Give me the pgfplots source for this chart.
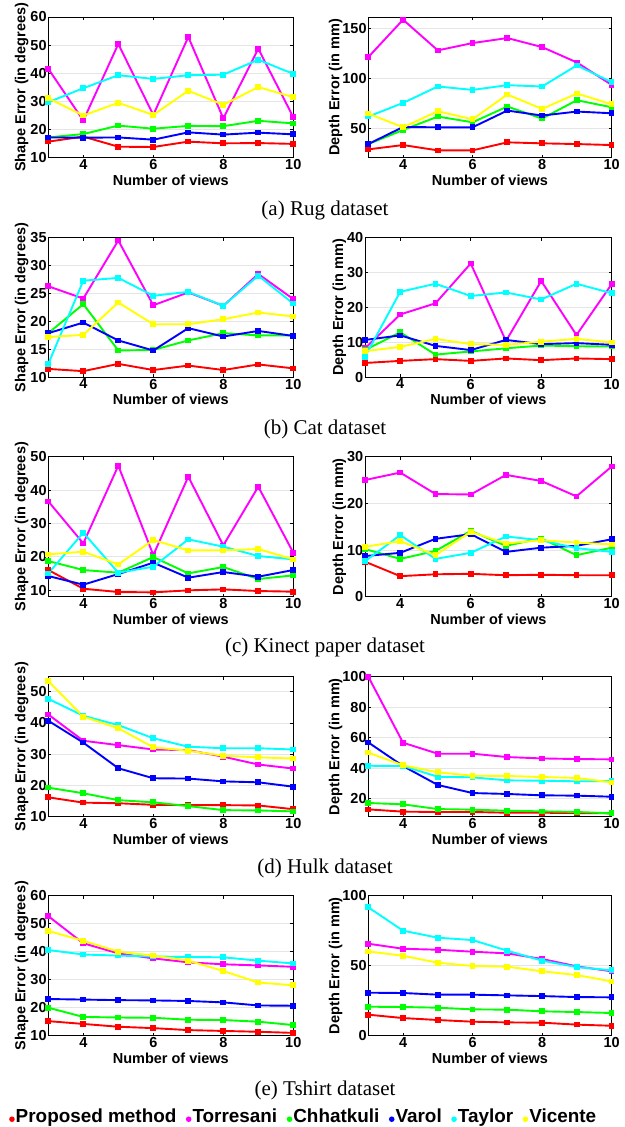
\documentclass[border=0pt]{standalone}
\usepackage{fontspec}
\setmainfont{Liberation Sans}
\newfontfamily\capfont{Liberation Serif}
\usepackage{pgfplots}
\pgfplotsset{compat=1.18}

\definecolor{mred}{RGB}{255,0,0}
\definecolor{mmag}{RGB}{255,0,255}
\definecolor{mgrn}{RGB}{0,255,0}
\definecolor{mblu}{RGB}{0,0,255}
\definecolor{mcyn}{RGB}{0,255,255}
\definecolor{myel}{RGB}{255,255,0}

\newcommand\lab{\fontsize{14.5}{16}\selectfont\bfseries}
\newcommand\legf{\fontsize{18.9}{20}\selectfont\bfseries}
\newcommand\capf{\capfont\fontsize{21}{24}\selectfont}

\pgfplotsset{
  panel/.style={
    scale only axis, anchor=south west,
    xmin=3, xmax=10, xtick={4,6,8,10},
    tick align=inside, major tick length=3pt,
    ymajorgrids, grid style={gray!20, line width=0.6pt},
    axis line style={line width=0.8pt},
    every tick/.style={black, line width=0.6pt},
    ticklabel style={font=\lab, inner sep=1.5pt},
    /pgf/number format/assume math mode=true,
    xlabel={Number of views},
    xlabel style={font=\lab, at={(axis description cs:0.5,0)}, anchor=base, yshift=-27.5pt, inner sep=0pt},
    ylabel style={font=\lab, anchor=base, inner sep=0pt},
    cycle list={{mred,mark=square*},{mmag,mark=square*},{mgrn,mark=square*},
                {mblu,mark=square*},{mcyn,mark=square*},{myel,mark=square*}},
    every axis plot/.append style={line width=1.9pt, mark size=1.9pt, mark options={solid}},
  },
  shapeax/.style={panel, width=245pt, ylabel={Shape Error (in degrees)},
    ylabel style={at={(axis description cs:-0.094,0.5)}}},
  depthax/.style={panel, ylabel={Depth Error (in mm)}},
}

\begin{document}
\begin{tikzpicture}
\path[use as bounding box] (0,0) rectangle (624pt,1127pt);

% (a) Rug
\begin{axis}[shapeax, at={(48.3pt,969.3pt)}, height=140.7pt,
  ymin=10, ymax=60, ytick={10,20,30,40,50,60}]
\addplot coordinates {(3,15.7)(4,17.5)(5,13.9)(6,13.8)(7,15.7)(8,15.1)(9,15.2)(10,14.9)};
\addplot coordinates {(3,41.6)(4,23.2)(5,50.4)(6,25.2)(7,52.9)(8,24.0)(9,48.7)(10,24.4)};
\addplot coordinates {(3,17.2)(4,18.4)(5,21.4)(6,20.3)(7,21.3)(8,21.2)(9,23.1)(10,22.2)};
\addplot coordinates {(3,17.2)(4,17.1)(5,17.2)(6,16.4)(7,19.0)(8,18.2)(9,18.9)(10,18.3)};
\addplot coordinates {(3,29.7)(4,34.7)(5,39.3)(6,38.0)(7,39.3)(8,39.5)(9,44.8)(10,39.8)};
\addplot coordinates {(3,31.1)(4,25.0)(5,29.5)(6,25.2)(7,33.8)(8,28.8)(9,35.1)(10,31.5)};
\end{axis}
\begin{axis}[depthax, at={(368.3pt,969.3pt)}, width=243.3pt, height=140.7pt,
  ymin=20.7, ymax=161, ytick={50,100,150},
  ylabel style={at={(axis description cs:-0.119,0.5)}}]
\addplot coordinates {(3,29)(4,33.3)(5,28)(6,28)(7,36)(8,35)(9,34.3)(10,33.3)};
\addplot coordinates {(3,121)(4,158.3)(5,127.7)(6,135)(7,140)(8,131)(9,115.7)(10,93.3)};
\addplot coordinates {(3,34.3)(4,48.3)(5,61.7)(6,56)(7,71.7)(8,59.7)(9,78)(10,71)};
\addplot coordinates {(3,34.3)(4,51.3)(5,51)(6,51)(7,67.7)(8,62.7)(9,66.7)(10,65)};
\addplot coordinates {(3,61.7)(4,75.3)(5,91.7)(6,88.3)(7,93)(8,91.7)(9,112.7)(10,96)};
\addplot coordinates {(3,64.7)(4,51)(5,67)(6,59)(7,83.7)(8,69.3)(9,84.7)(10,74)};
\end{axis}

% (b) Cat
\begin{axis}[shapeax, at={(48.3pt,749.7pt)}, height=139.6pt,
  ymin=10, ymax=35, ytick={10,15,20,25,30,35}]
\addplot coordinates {(3,11.5)(4,11.1)(5,12.4)(6,11.3)(7,12.1)(8,11.3)(9,12.3)(10,11.6)};
\addplot coordinates {(3,26.3)(4,24.1)(5,34.5)(6,22.9)(7,25.2)(8,22.8)(9,28.5)(10,24.0)};
\addplot coordinates {(3,17.9)(4,23.1)(5,14.8)(6,14.9)(7,16.6)(8,17.9)(9,17.5)(10,17.5)};
\addplot coordinates {(3,17.9)(4,19.8)(5,16.6)(6,14.8)(7,18.8)(8,17.3)(9,18.3)(10,17.4)};
\addplot coordinates {(3,12.4)(4,27.3)(5,27.8)(6,24.6)(7,25.3)(8,22.8)(9,28.2)(10,23.2)};
\addplot coordinates {(3,17.2)(4,17.6)(5,23.4)(6,19.5)(7,19.5)(8,20.4)(9,21.6)(10,20.9)};
\end{axis}
\begin{axis}[depthax, at={(365pt,749.7pt)}, width=246.7pt, height=139.6pt,
  ymin=0, ymax=40, ytick={0,10,20,30,40},
  ylabel style={at={(axis description cs:-0.089,0.5)}}]
\addplot coordinates {(3,4.1)(4,4.7)(5,5.2)(6,4.7)(7,5.4)(8,4.9)(9,5.4)(10,5.2)};
\addplot coordinates {(3,8.3)(4,18.0)(5,21.2)(6,32.6)(7,10.4)(8,27.6)(9,12.1)(10,26.7)};
\addplot coordinates {(3,7.8)(4,12.9)(5,6.5)(6,7.4)(7,8.3)(8,9.1)(9,8.9)(10,8.8)};
\addplot coordinates {(3,10.7)(4,12.0)(5,9.0)(6,7.8)(7,10.7)(8,9.5)(9,9.8)(10,9.3)};
\addplot coordinates {(3,5.9)(4,24.5)(5,26.8)(6,23.3)(7,24.3)(8,22.3)(9,26.8)(10,24.1)};
\addplot coordinates {(3,7.5)(4,8.7)(5,11.0)(6,9.5)(7,9.3)(8,10.2)(9,11.0)(10,10.0)};
\end{axis}

% (c) Kinect paper
\begin{axis}[shapeax, at={(48.3pt,530.3pt)}, height=140pt,
  ymin=8, ymax=50, ytick={10,20,30,40,50}]
\addplot coordinates {(3,16)(4,10.4)(5,9.4)(6,9.3)(7,9.9)(8,10.2)(9,9.7)(10,9.5)};
\addplot coordinates {(3,36.6)(4,24)(5,47.3)(6,20.5)(7,44)(8,23.4)(9,41)(10,21.2)};
\addplot coordinates {(3,18.7)(4,16)(5,15.2)(6,19.9)(7,15)(8,16.9)(9,13.3)(10,14.4)};
\addplot coordinates {(3,14.2)(4,11.6)(5,14.8)(6,18.2)(7,13.7)(8,15.4)(9,14)(10,16)};
\addplot coordinates {(3,15)(4,27.2)(5,15.2)(6,17)(7,25.2)(8,23)(9,20.2)(10,19.2)};
\addplot coordinates {(3,20.7)(4,21.5)(5,17.7)(6,25)(7,21.9)(8,21.9)(9,22.3)(10,19.2)};
\end{axis}
\begin{axis}[depthax, at={(365pt,530.3pt)}, width=246.7pt, height=140pt,
  ymin=0, ymax=30, ytick={0,10,20,30},
  ylabel style={at={(axis description cs:-0.089,0.5)}}]
\addplot coordinates {(3,7.5)(4,4.4)(5,4.8)(6,4.9)(7,4.6)(8,4.7)(9,4.6)(10,4.6)};
\addplot coordinates {(3,25)(4,26.6)(5,22)(6,21.9)(7,26.1)(8,24.8)(9,21.5)(10,27.9)};
\addplot coordinates {(3,10.2)(4,8.1)(5,9.8)(6,14.1)(7,10.9)(8,12.5)(9,8.9)(10,10.5)};
\addplot coordinates {(3,8.7)(4,9.4)(5,12.4)(6,13.4)(7,9.6)(8,10.5)(9,10.9)(10,12.3)};
\addplot coordinates {(3,7.6)(4,13.2)(5,8.1)(6,9.4)(7,12.9)(8,12.1)(9,10.4)(10,9.6)};
\addplot coordinates {(3,10.7)(4,11.9)(5,8.9)(6,13.9)(7,11.4)(8,12.1)(9,11.6)(10,11.2)};
\end{axis}

% (d) Hulk
\begin{axis}[shapeax, at={(48.3pt,310.3pt)}, height=140pt,
  ymin=10, ymax=54.8, ytick={10,20,30,40,50}]
\addplot coordinates {(3,16.2)(4,14.5)(5,14.3)(6,13.8)(7,13.7)(8,13.7)(9,13.6)(10,12.4)};
\addplot coordinates {(3,42.7)(4,34.3)(5,32.9)(6,31.5)(7,31.3)(8,29.2)(9,26.7)(10,25.4)};
\addplot coordinates {(3,19.3)(4,17.5)(5,15.3)(6,14.6)(7,13.4)(8,12.1)(9,12)(10,11.7)};
\addplot coordinates {(3,40.7)(4,33.7)(5,25.5)(6,22.3)(7,22.2)(8,21.3)(9,21)(10,19.6)};
\addplot coordinates {(3,47.7)(4,42.3)(5,39.3)(6,35.1)(7,32.4)(8,31.9)(9,31.9)(10,31.5)};
\addplot coordinates {(3,53.4)(4,42)(5,38.3)(6,32.2)(7,31.1)(8,29.5)(9,29)(10,28.6)};
\end{axis}
\begin{axis}[depthax, at={(368.3pt,310.3pt)}, width=243.3pt, height=140pt,
  ymin=8.2, ymax=100, ytick={20,40,60,80,100},
  ylabel style={at={(axis description cs:-0.119,0.5)}}]
\addplot coordinates {(3,13)(4,11.5)(5,11.3)(6,11.3)(7,10.8)(8,10.8)(9,10.6)(10,10.4)};
\addplot coordinates {(3,100)(4,56.7)(5,49.5)(6,49.5)(7,47.3)(8,46.4)(9,46)(10,45.8)};
\addplot coordinates {(3,17.2)(4,16.3)(5,13.2)(6,12.8)(7,12.1)(8,11.7)(9,11.3)(10,10.4)};
\addplot coordinates {(3,56.9)(4,41.4)(5,29)(6,23.7)(7,23.1)(8,22.2)(9,22)(10,21.3)};
\addplot coordinates {(3,41.6)(4,41.4)(5,34.4)(6,34)(7,32)(8,31.8)(9,31.4)(10,31.6)};
\addplot coordinates {(3,50.2)(4,41.9)(5,37.3)(6,35.1)(7,34.9)(8,34.2)(9,33.6)(10,30.7)};
\end{axis}

% (e) Tshirt
\begin{axis}[shapeax, at={(48.3pt,91.3pt)}, height=140pt,
  ymin=10, ymax=60, ytick={10,20,30,40,50,60}]
\addplot coordinates {(3,15.2)(4,14.2)(5,13.2)(6,12.7)(7,12)(8,11.7)(9,11.4)(10,11)};
\addplot coordinates {(3,52.7)(4,43)(5,39.4)(6,37.6)(7,36.2)(8,35.5)(9,35.1)(10,34.6)};
\addplot coordinates {(3,20)(4,16.7)(5,16.5)(6,16.4)(7,15.7)(8,15.6)(9,15)(10,13.8)};
\addplot coordinates {(3,23.1)(4,22.9)(5,22.7)(6,22.6)(7,22.4)(8,21.9)(9,20.8)(10,20.7)};
\addplot coordinates {(3,40.6)(4,39)(5,38.6)(6,38.3)(7,38.1)(8,38)(9,36.8)(10,35.8)};
\addplot coordinates {(3,47.4)(4,43.9)(5,40)(6,38.6)(7,36.8)(8,33.1)(9,29)(10,28)};
\end{axis}
\begin{axis}[depthax, at={(368.3pt,91.3pt)}, width=243.3pt, height=140pt,
  ymin=0, ymax=100, ytick={0,50,100},
  ylabel style={at={(axis description cs:-0.119,0.5)}},
  legend entries={Proposed method,Torresani,Chhatkuli,Varol,Taylor,Vicente},
  legend image code/.code={\fill[#1, draw=none] (0pt,-3pt) circle (2.8pt);},
  legend style={draw=none, fill=none, legend columns=-1,
    at={(axis description cs:-1.477,-0.638)}, anchor=south west,
    inner xsep=0pt, inner ysep=0pt, font=\legf, nodes={inner sep=1pt},
    /tikz/every even column/.append style={column sep=8.5pt}}]
\addplot coordinates {(3,15)(4,12.6)(5,11.2)(6,10)(7,9.5)(8,9.3)(9,7.9)(10,7.1)};
\addplot coordinates {(3,65.7)(4,62.1)(5,61.4)(6,60)(7,58.8)(8,54.8)(9,49.5)(10,46)};
\addplot coordinates {(3,20.7)(4,20.5)(5,20)(6,18.8)(7,18.6)(8,17.4)(9,16.9)(10,16.2)};
\addplot coordinates {(3,30.7)(4,30.5)(5,29.3)(6,29.3)(7,28.8)(8,28.3)(9,27.6)(10,27.4)};
\addplot coordinates {(3,91.7)(4,75)(5,70)(6,68.3)(7,60.7)(8,53.6)(9,49)(10,46.7)};
\addplot coordinates {(3,60.2)(4,57.1)(5,52.1)(6,49.8)(7,49.3)(8,46)(9,43.3)(10,38.8)};
\end{axis}

\node[font=\capf, anchor=base] at (325pt,911pt) {(a) Rug dataset};
\node[font=\capf, anchor=base] at (325pt,692pt) {(b) Cat dataset};
\node[font=\capf, anchor=base] at (325pt,474pt) {(c) Kinect paper dataset};
\node[font=\capf, anchor=base] at (325pt,253pt) {(d) Hulk dataset};
\node[font=\capf, anchor=base] at (325pt,31pt) {(e) Tshirt dataset};
\end{tikzpicture}
\end{document}
